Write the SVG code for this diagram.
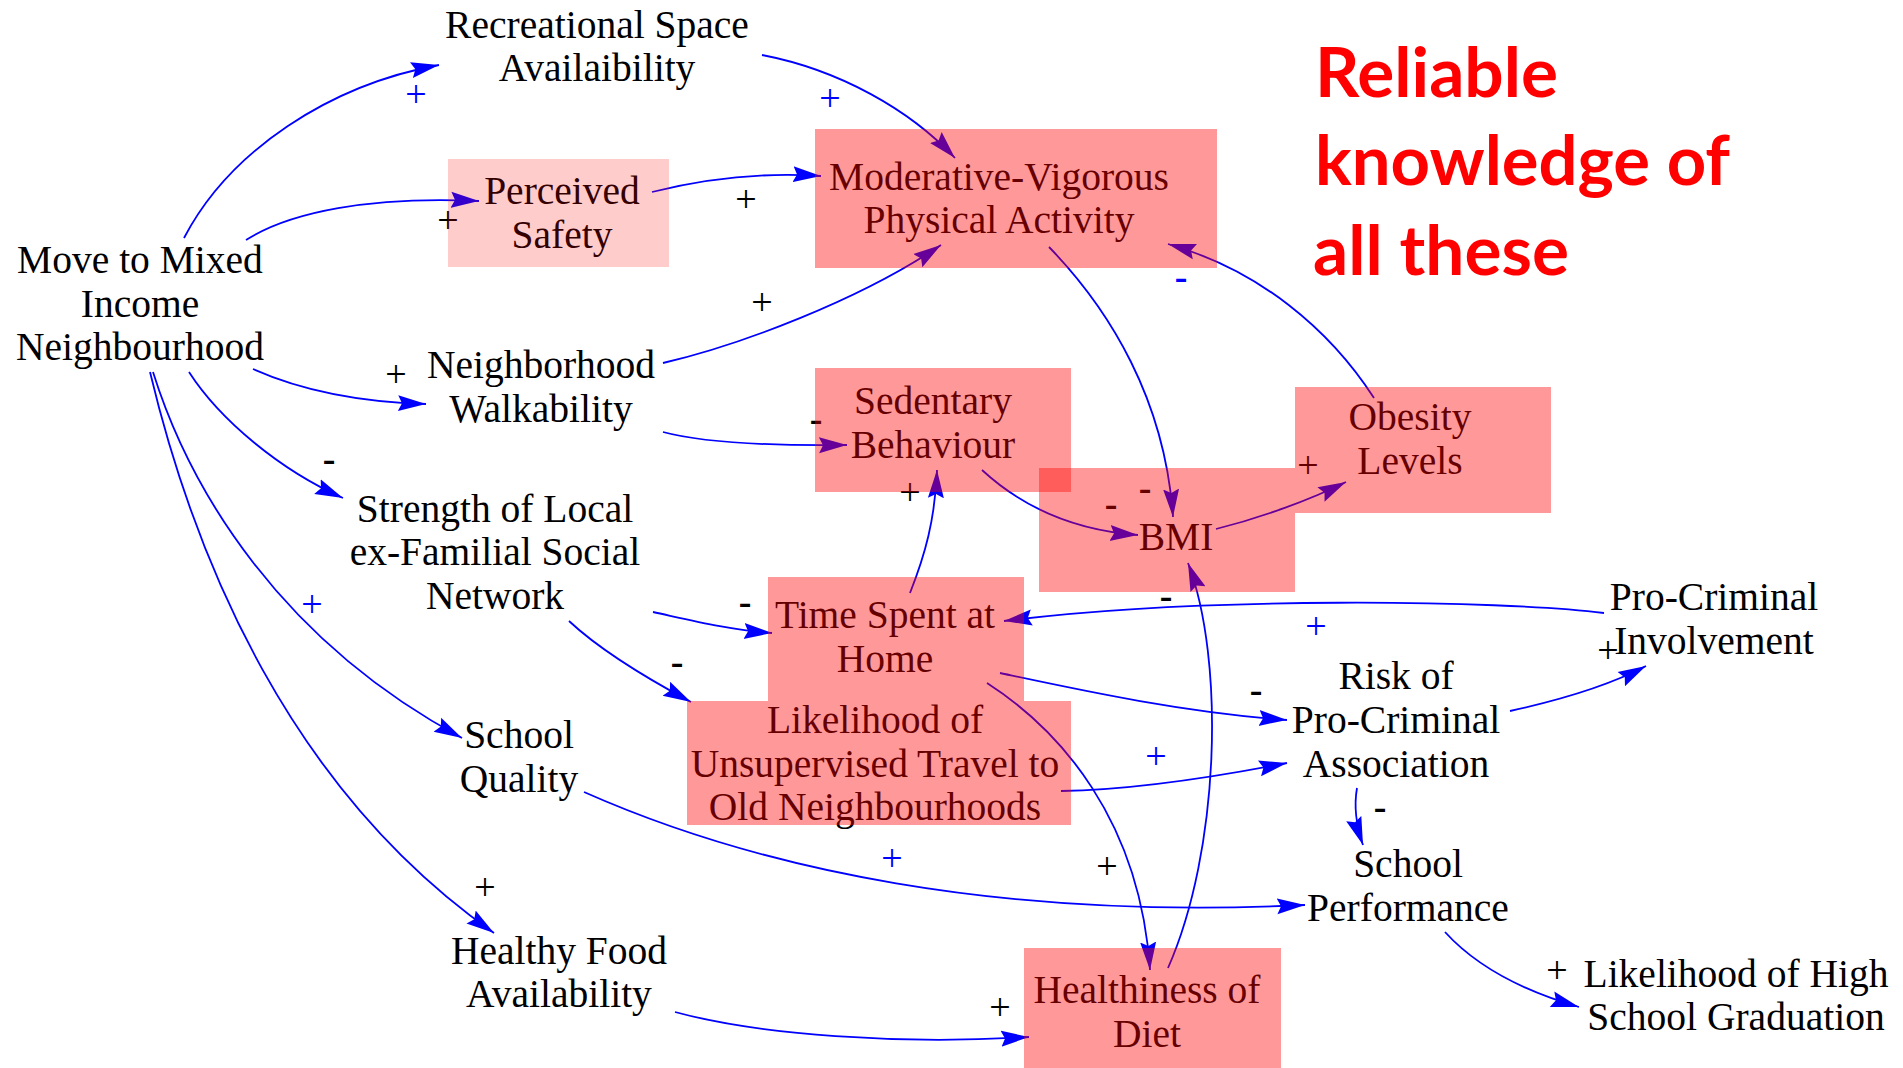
<svg xmlns="http://www.w3.org/2000/svg" width="1903" height="1068" viewBox="0 0 1903 1068">
  <defs>
    <marker id="arrow" markerUnits="userSpaceOnUse" markerWidth="30" markerHeight="18" refX="28" refY="9" orient="auto">
      <path d="M0,1 L28,9 L0,17 L4,9 Z" fill="#0000FF"/>
    </marker>
    <style>
      .lbl { font-family: "Liberation Serif", "Times New Roman", serif; font-size: 39.5px; fill: #000000; text-anchor: middle; }
      .link { fill: none; stroke: #0000FF; stroke-width: 1.8; marker-end: url(#arrow); }
      .sign { font-family: "Liberation Serif", "Times New Roman", serif; font-size: 38px; text-anchor: middle; fill: #000000; }
      .minus { font-weight: bold; }
      .blue { fill: #0000FF; }
      .hl { fill: #FF0000; fill-opacity: 0.4; }
      .hl-light { fill: #FF0000; fill-opacity: 0.2; }
      .note { font-family: Lato, "Open Sans", "Liberation Sans", sans-serif; font-weight: bold; font-size: 68px; fill: #FF0000; }
    </style>
  </defs>

  <rect width="1903" height="1068" fill="#FFFFFF"/>

  <!-- causal links with their polarity signs -->
  <g id="connectors">
    <path class="link" d="M184,238 C230,150 330,85 439,65"/>
    <path class="link" d="M246,240 C290,212 370,196 479,201"/>
    <path class="link" d="M253,369 C300,390 360,402 426,404"/>
    <path class="link" d="M189,372 C220,420 280,470 343,498"/>
    <path class="link" d="M153,372 C190,490 280,640 462,738"/>
    <path class="link" d="M150,372 C195,560 290,790 494,933"/>
    <path class="link" d="M762,55 C840,70 910,110 955,158"/>
    <path class="link" d="M652,192 C700,180 760,172 821,176"/>
    <path class="link" d="M663,363 C740,345 860,300 941,245"/>
    <path class="link" d="M663,432 C700,442 760,446 847,445"/>
    <path class="link" d="M1049,247 C1110,310 1165,400 1173,517"/>
    <path class="link" d="M982,470 C1020,505 1070,530 1138,535"/>
    <path class="link" d="M1216,529 C1260,518 1310,500 1346,482"/>
    <path class="link" d="M1374,398 C1330,330 1260,270 1168,244"/>
    <path class="link" d="M910,593 C925,555 935,520 937,470"/>
    <path class="link" d="M653,612 C690,620 730,630 772,633"/>
    <path class="link" d="M569,621 C600,650 650,680 691,702"/>
    <path class="link" d="M1604,613 C1500,600 1200,596 1004,621"/>
    <path class="link" d="M1000,673 C1080,690 1180,712 1287,720"/>
    <path class="link" d="M1061,791 C1130,790 1210,778 1287,763"/>
    <path class="link" d="M987,683 C1060,730 1140,820 1150,970"/>
    <path class="link" d="M1168,968 C1220,850 1225,660 1188,563"/>
    <path class="link" d="M1510,711 C1560,700 1610,685 1646,666"/>
    <path class="link" d="M1357,788 C1354,805 1356,825 1363,845"/>
    <path class="link" d="M584,792 C760,870 1000,920 1305,905"/>
    <path class="link" d="M675,1012 C760,1035 900,1045 1029,1037"/>
    <path class="link" d="M1445,932 C1475,965 1520,990 1579,1007"/>

    <text class="sign blue" x="416" y="107">+</text>
    <text class="sign" x="448" y="233">+</text>
    <text class="sign" x="396" y="387">+</text>
    <text class="sign minus" x="329" y="471">-</text>
    <text class="sign blue" x="312" y="617">+</text>
    <text class="sign" x="485" y="900">+</text>
    <text class="sign blue" x="830" y="111">+</text>
    <text class="sign" x="746" y="212">+</text>
    <text class="sign" x="762" y="315">+</text>
    <text class="sign minus" x="816" y="431">-</text>
    <text class="sign minus" x="1145" y="500">-</text>
    <text class="sign minus" x="1111" y="516">-</text>
    <text class="sign" x="1308" y="478">+</text>
    <text class="sign minus blue" x="1181" y="289">-</text>
    <text class="sign" x="910" y="505">+</text>
    <text class="sign minus" x="745" y="614">-</text>
    <text class="sign minus" x="677" y="674">-</text>
    <text class="sign blue" x="1316" y="639">+</text>
    <text class="sign minus" x="1256" y="702">-</text>
    <text class="sign blue" x="1156" y="769">+</text>
    <text class="sign" x="1107" y="879">+</text>
    <text class="sign minus" x="1166" y="608">-</text>
    <text class="sign" x="1608" y="663">+</text>
    <text class="sign minus" x="1380" y="819">-</text>
    <text class="sign blue" x="892" y="871">+</text>
    <text class="sign" x="1000" y="1020">+</text>
    <text class="sign" x="1557" y="983">+</text>
  </g>

  <!-- variables -->
  <g id="node-recreational-space">
    <text class="lbl"><tspan x="597" y="38">Recreational Space</tspan><tspan x="597" y="81">Availaibility</tspan></text>
  </g>
  <g id="node-move">
    <text class="lbl"><tspan x="140" y="273">Move to Mixed</tspan><tspan x="140" y="317">Income</tspan><tspan x="140" y="360">Neighbourhood</tspan></text>
  </g>
  <g id="node-perceived-safety">
    <text class="lbl"><tspan x="562" y="204">Perceived</tspan><tspan x="562" y="248">Safety</tspan></text>
    <rect class="hl-light" x="448" y="159" width="221" height="108"/>
  </g>
  <g id="node-walkability">
    <text class="lbl"><tspan x="541" y="378">Neighborhood</tspan><tspan x="541" y="422">Walkability</tspan></text>
  </g>
  <g id="node-mvpa">
    <text class="lbl"><tspan x="999" y="190">Moderative-Vigorous</tspan><tspan x="999" y="233">Physical Activity</tspan></text>
    <rect class="hl" x="815" y="129" width="402" height="139"/>
  </g>
  <g id="node-sedentary">
    <text class="lbl"><tspan x="933" y="414">Sedentary</tspan><tspan x="933" y="458">Behaviour</tspan></text>
    <rect class="hl" x="815" y="368" width="256" height="124"/>
  </g>
  <g id="node-obesity">
    <text class="lbl"><tspan x="1410" y="430">Obesity</tspan><tspan x="1410" y="474">Levels</tspan></text>
    <rect class="hl" x="1295" y="387" width="256" height="126"/>
  </g>
  <g id="node-bmi">
    <text class="lbl" x="1176" y="550">BMI</text>
    <rect class="hl" x="1039" y="468" width="256" height="124"/>
  </g>
  <g id="node-social-network">
    <text class="lbl"><tspan x="495" y="522">Strength of Local</tspan><tspan x="495" y="565">ex-Familial Social</tspan><tspan x="495" y="609">Network</tspan></text>
  </g>
  <g id="node-time-home">
    <text class="lbl"><tspan x="885" y="628">Time Spent at</tspan><tspan x="885" y="672">Home</tspan></text>
    <rect class="hl" x="768" y="577" width="256" height="124"/>
  </g>
  <g id="node-unsupervised-travel">
    <text class="lbl"><tspan x="875" y="733">Likelihood of</tspan><tspan x="875" y="777">Unsupervised Travel to</tspan><tspan x="875" y="820">Old Neighbourhoods</tspan></text>
    <rect class="hl" x="687" y="701" width="384" height="124"/>
  </g>
  <g id="node-school-quality">
    <text class="lbl"><tspan x="519" y="748">School</tspan><tspan x="519" y="792">Quality</tspan></text>
  </g>
  <g id="node-healthy-food">
    <text class="lbl"><tspan x="559" y="964">Healthy Food</tspan><tspan x="559" y="1007">Availability</tspan></text>
  </g>
  <g id="node-diet">
    <text class="lbl"><tspan x="1147" y="1003">Healthiness of</tspan><tspan x="1147" y="1047">Diet</tspan></text>
    <rect class="hl" x="1024" y="948" width="257" height="120"/>
  </g>
  <g id="node-risk-association">
    <text class="lbl"><tspan x="1396" y="689">Risk of</tspan><tspan x="1396" y="733">Pro-Criminal</tspan><tspan x="1396" y="777">Association</tspan></text>
  </g>
  <g id="node-school-performance">
    <text class="lbl"><tspan x="1408" y="877">School</tspan><tspan x="1408" y="921">Performance</tspan></text>
  </g>
  <g id="node-involvement">
    <text class="lbl"><tspan x="1714" y="610">Pro-Criminal</tspan><tspan x="1714" y="654">Involvement</tspan></text>
  </g>
  <g id="node-graduation">
    <text class="lbl"><tspan x="1736" y="987">Likelihood of High</tspan><tspan x="1736" y="1030">School Graduation</tspan></text>
  </g>

  <!-- side note -->
  <g id="note">
    <text class="note" x="1315" y="97" textLength="243" lengthAdjust="spacingAndGlyphs">Reliable</text>
    <text class="note" x="1315" y="185" textLength="415" lengthAdjust="spacingAndGlyphs">knowledge of</text>
    <text class="note" x="1313" y="275" textLength="256" lengthAdjust="spacingAndGlyphs">all these</text>
  </g>
</svg>
